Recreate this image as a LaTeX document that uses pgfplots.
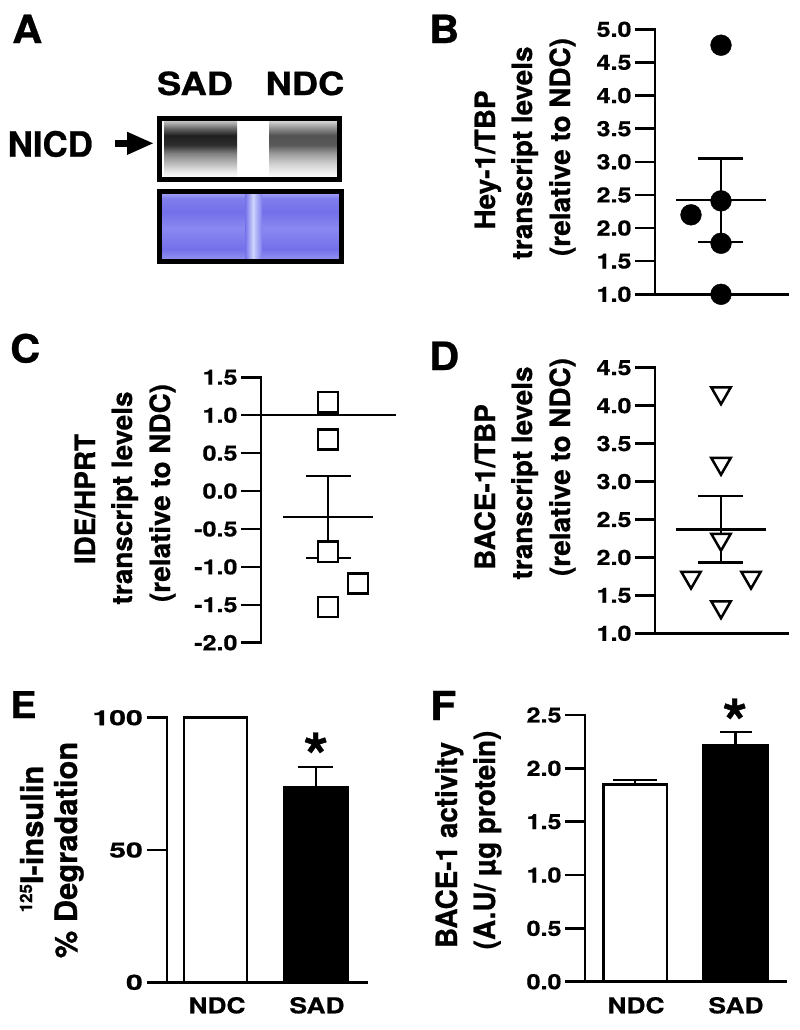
\documentclass[border=0pt]{standalone}
\usepackage{pgfplots}
\pgfplotsset{compat=1.18}
\usepackage{fontspec}
\setmainfont{TeX Gyre Heros}
\newfontfamily\hv{TeX Gyre Heros}[BoldFeatures={FakeBold=0.7}]
\newfontfamily\hvw{TeX Gyre Heros}[FakeStretch=1.2, BoldFeatures={FakeBold=0.7}]
\newcommand\fs[1]{\fontsize{#1}{#1}\selectfont}
\newcommand\tickfont{\hvw\bfseries\fs{21}}
\newcommand\xlabfont{\hvw\bfseries\fs{22}}

\pgfdeclareverticalshading{bandSAD}{100bp}{color(0bp)=(white); color(25bp)=(white); color(30bp)=(black!8); color(38bp)=(black!28); color(46bp)=(black!50); color(53bp)=(black!82); color(61bp)=(black!88); color(67bp)=(black!60); color(72bp)=(black!30); color(75bp)=(black!15); color(100bp)=(black!15)}
\pgfdeclareverticalshading{bandNDC}{100bp}{color(0bp)=(white); color(25bp)=(white); color(30bp)=(black!6); color(38bp)=(black!20); color(46bp)=(black!40); color(53bp)=(black!65); color(61bp)=(black!68); color(67bp)=(black!45); color(72bp)=(black!22); color(75bp)=(black!10); color(100bp)=(black!10)}
\definecolor{bA}{RGB}{168,168,245}
\definecolor{bB}{RGB}{128,126,238}
\definecolor{bC}{RGB}{116,112,234}
\definecolor{bD}{RGB}{138,136,240}
\definecolor{bE}{RGB}{116,112,234}
\definecolor{bF}{RGB}{150,150,242}
\definecolor{bP}{RGB}{205,212,252}
\pgfdeclareverticalshading{blue}{100bp}{color(0bp)=(bF); color(25bp)=(bF); color(33.5bp)=(bE); color(48.8bp)=(bD); color(60.4bp)=(bC); color(70.4bp)=(bB); color(75bp)=(bA); color(100bp)=(bA)}

\pgfplotsset{
  gp/.style={
    scale only axis, clip=false, anchor=south west,
    axis line style={line width=2.5bp, line cap=rect},
    tick style={line width=2.5bp, black},
    major tick length=20bp,
    ytick align=outside, ytick pos=left,
    yticklabel style={font=\tickfont},
    xtick=\empty,
  },
  mline/.style={line width=2.5bp, black},
}
\tikzset{
  ylab/.style={anchor=base, inner sep=0pt, font=\hv\bfseries\fs{28}},
  plab/.style={anchor=base west, inner sep=0pt, font=\hv\bfseries\fs{39}, xscale=1.07},
}

\begin{document}
\begin{tikzpicture}
\useasboundingbox (0,0) rectangle (800bp,-1030bp);
\fill[white] (0,0) rectangle (800bp,-1030bp);

\begin{scope}[x=1bp, y=-1bp]
% panel letters
\node[plab] at (12,43) {A};
\node[plab] at (429,43) {B};
\node[plab] at (10,362.5) {C};
\node[plab] at (429,370) {D};
\node[plab, font=\hv\bfseries\fs{37}] at (10,718) {E};
\node[plab, font=\hv\bfseries\fs{40}] at (430,720) {F};

% panel A blot
\node[anchor=base, inner sep=0pt, font=\hv\bfseries\fs{32}, xscale=1.14] at (195,95) {SAD};
\node[anchor=base, inner sep=0pt, font=\hv\bfseries\fs{32}, xscale=1.14] at (305,95) {NDC};
\node[anchor=base west, inner sep=0pt, font=\hv\bfseries\fs{35}] at (7.5,156.7) {NICD};
\fill[black] (115,140) rectangle (129,146.6);
\fill[black] (127,131.7) -- (153,143.3) -- (127,155) -- cycle;
\fill[white] (159.5,118.5) rectangle (339.5,179.5);
\shade[shading=bandSAD] (164,119) rectangle (237,178);
\shade[shading=bandNDC] (269,119) rectangle (338,178);
\draw[line width=5bp] (159.5,118.5) rectangle (339.5,179.5);
\shade[shading=blue] (160,192) rectangle (341,261);
\shade[left color=bC, right color=bP] (245,192) rectangle (253,261);
\shade[left color=bP, right color=bB] (253,192) rectangle (262,261);
\draw[line width=5bp] (159.5,191.5) rectangle (341.5,261.5);

% y labels B
\node[ylab, rotate=90] at (495,160) {Hey-1/TBP};
\node[ylab, rotate=90] at (532,153) {transcript levels};
\node[ylab, rotate=90] at (570,147) {(relative to NDC)};
% C
\node[ylab, rotate=90] at (95,499) {IDE/HPRT};
\node[ylab, rotate=90] at (132,498) {transcript levels};
\node[ylab, rotate=90] at (170,493) {(relative to NDC)};
% D
\node[ylab, rotate=90] at (495,487) {BACE-1/TBP};
\node[ylab, rotate=90] at (532,473) {transcript levels};
\node[ylab, rotate=90] at (570,467) {(relative to NDC)};
% E
\node[ylab, font=\hv\bfseries\fs{31}, rotate=90] at (43,839) {\raisebox{11bp}{\fs{17}125}I-insulin};
\node[ylab, font=\hv\bfseries\fs{31}, rotate=90] at (77,850) {\% Degradation};
% F
\node[ylab, font=\hv\bfseries\fs{28}, xscale=1.05, rotate=90] at (457,845) {BACE-1 activity};
\node[ylab, font=\hv\bfseries\fs{28}, xscale=1.05, rotate=90] at (495,840) {(A.U/ µg protein)};
% stars
\node[anchor=base, inner sep=0pt, font=\hv\bfseries\fs{64}] at (316,779) {*};
\node[anchor=base, inner sep=0pt, font=\hv\bfseries\fs{64}] at (735,745) {*};
\end{scope}

% ---------- B ----------
\begin{axis}[gp, axis lines*=left, ytick align=outside, at={(655bp,-294.3bp)}, width=133bp, height=265bp,
  xmin=0, xmax=133, ymin=1, ymax=5,
  ytick={1,1.5,2,2.5,3,3.5,4,4.5,5},
  yticklabels={1.0,1.5,2.0,2.5,3.0,3.5,4.0,4.5,5.0}]
\addplot[mline] coordinates {(21,2.42) (111,2.42)};
\addplot[mline] coordinates {(66,1.79) (66,3.05)};
\addplot[mline] coordinates {(43,3.05) (88,3.05)};
\addplot[mline] coordinates {(43,1.79) (88,1.79)};
\addplot[only marks, mark=*, mark size=10.4bp, mark options={draw=black, fill=black}] coordinates {(66,4.76) (36,2.2) (66,2.41) (66,1.77) (66,1.0)};
\end{axis}

% ---------- C ----------
\begin{axis}[gp, axis y line*=left, axis x line=none, ytick align=outside, at={(261bp,-642.7bp)}, width=135bp, height=265.4bp,
  xmin=0, xmax=135, ymin=-2, ymax=1.5,
  ytick={-2,-1.5,-1,-0.5,0,0.5,1,1.5},
  yticklabels={-2.0,-1.5,-1.0,-0.5,0.0,0.5,1.0,1.5}]
\draw[line width=2.5bp] (axis cs:0,1) -- (axis cs:135,1);
\addplot[mline] coordinates {(22,-0.34) (112,-0.34)};
\addplot[mline] coordinates {(67,-0.88) (67,0.20)};
\addplot[mline] coordinates {(45,0.20) (90,0.20)};
\addplot[mline] coordinates {(45,-0.88) (90,-0.88)};
\addplot[only marks, mark=square*, mark size=10.1bp, mark options={draw=black, fill=white, line width=2.5bp}] coordinates {(67,1.17) (67,0.68) (67,-0.80) (67,-1.53) (97,-1.22)};
\end{axis}

% ---------- D ----------
\begin{axis}[gp, axis lines*=left, ytick align=outside, at={(655bp,-633.3bp)}, width=133bp, height=265.6bp,
  xmin=0, xmax=133, ymin=1, ymax=4.5,
  ytick={1,1.5,2,2.5,3,3.5,4,4.5},
  yticklabels={1.0,1.5,2.0,2.5,3.0,3.5,4.0,4.5}]
\addplot[mline] coordinates {(21,2.37) (111,2.37)};
\addplot[mline] coordinates {(66,1.93) (66,2.81)};
\addplot[mline] coordinates {(43,2.81) (88,2.81)};
\addplot[mline] coordinates {(43,1.93) (88,1.93)};
\addplot[only marks, mark=triangle*, mark size=11.2bp, mark options={yshift=2.8bp, rotate=180, draw=black, fill=white, line width=2.5bp}] coordinates {(66,4.13) (66,3.2) (66,2.2) (36,1.7) (96,1.7) (66,1.31)};
\end{axis}

% ---------- E ----------
\begin{axis}[gp, axis lines*=left, ytick align=outside, at={(167bp,-982.3bp)}, width=200bp, height=264.6bp,
  xmin=0, xmax=200, ymin=0, ymax=100,
  ytick={0,50,100}, yticklabels={0,50,100},
  yticklabel style={xscale=1.2}]
\addplot[ybar, bar width=63, bar shift=0pt, fill=white, draw=black, line width=2.5bp] coordinates {(48.5,100)};
\addplot[ybar, bar width=63.5, bar shift=0pt, fill=black, draw=black, line width=2.5bp] coordinates {(149,73.6)};
\addplot[mline] coordinates {(149,73.6) (149,81.3)};
\addplot[mline] coordinates {(131,81.3) (166,81.3)};
\node[anchor=base, inner sep=0pt, font=\xlabfont, yshift=-31bp] at (axis cs:50,0) {NDC};
\node[anchor=base, inner sep=0pt, font=\xlabfont, yshift=-31bp] at (axis cs:150,0) {SAD};
\end{axis}

% ---------- F ----------
\begin{axis}[gp, axis lines*=left, ytick align=outside, at={(585bp,-981.7bp)}, width=201bp, height=266.7bp,
  xmin=0, xmax=201, ymin=0, ymax=2.5,
  ytick={0,0.5,1,1.5,2,2.5}, yticklabels={0.0,0.5,1.0,1.5,2.0,2.5}]
\addplot[ybar, bar width=63.5, bar shift=0pt, fill=white, draw=black, line width=2.5bp] coordinates {(50,1.85)};
\addplot[ybar, bar width=64, bar shift=0pt, fill=black, draw=black, line width=2.5bp] coordinates {(150.5,2.22)};
\addplot[mline] coordinates {(50,1.85) (50,1.89)};
\addplot[mline] coordinates {(28,1.89) (72,1.89)};
\addplot[mline] coordinates {(150.5,2.22) (150.5,2.34)};
\addplot[mline] coordinates {(135,2.34) (167,2.34)};
\node[anchor=base, inner sep=0pt, font=\xlabfont, yshift=-31.6bp] at (axis cs:51,0) {NDC};
\node[anchor=base, inner sep=0pt, font=\xlabfont, yshift=-31.6bp] at (axis cs:151,0) {SAD};
\end{axis}
\end{tikzpicture}
\end{document}
